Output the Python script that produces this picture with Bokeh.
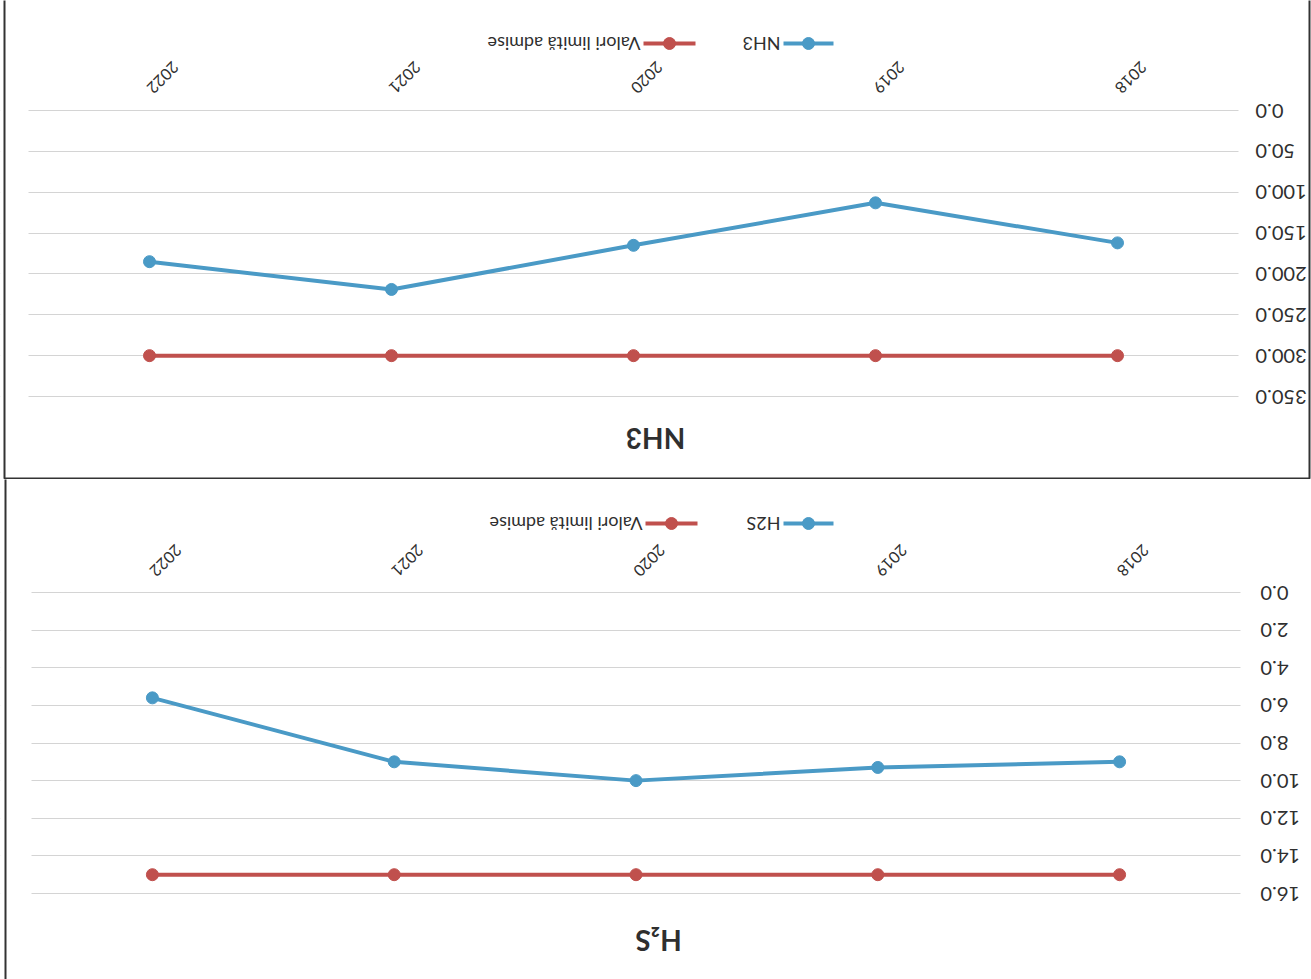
import math

from bokeh.embed import file_html
from bokeh.layouts import column
from bokeh.models import (BoxAnnotation, FixedTicker, Label,
                          NumeralTickFormatter, Range1d, SingleIntervalTicker)
from bokeh.plotting import figure
from bokeh.resources import INLINE

# ---- data -------------------------------------------------------------
years = [2018, 2019, 2020, 2021, 2022]

nh3_values = [162, 113, 165, 219, 185]
nh3_limit = [300, 300, 300, 300, 300]

h2s_values = [9.0, 9.3, 10.0, 9.0, 5.6]
h2s_limit = [15.0, 15.0, 15.0, 15.0, 15.0]

limit_name = "Valori limită admise"

BLUE = "#4a9ac6"
RED = "#c0504d"
TEXT = "#2f2f2f"
FONT = "Lato"
W = 1311


def make_panel(title, series_name, values, limits, y_max, y_step, height, geo):
    """One chart, printed turned by 180 degrees: 0 at the top, 2018 on the right."""
    unit_x = (geo["band_right"] - geo["band_left"]) / len(years)
    x_left = max(years) + 0.5 + geo["band_left"] / unit_x
    x_right = min(years) - 0.5 - (W - geo["band_right"]) / unit_x
    unit_y = (geo["max_px"] - geo["zero_px"]) / y_max
    y_top = -geo["zero_px"] / unit_y
    y_bottom = (height - geo["zero_px"]) / unit_y

    def px_x(px):
        return x_left + (x_right - x_left) * px / W

    def px_y(py):
        return y_top + (y_bottom - y_top) * py / height

    p = figure(
        width=W, height=height,
        x_range=Range1d(start=x_left, end=x_right),
        y_range=Range1d(start=y_bottom, end=y_top),
        x_axis_location="above", y_axis_location="left",
        output_backend="svg", toolbar_location=None,
        min_border=0, min_border_left=0, min_border_right=0,
        min_border_top=0, min_border_bottom=0,
        background_fill_color="white", border_fill_color="white",
        outline_line_color=None,
    )

    # horizontal grid only across the plotting band
    p.xgrid.visible = False
    p.ygrid.bounds = (0, y_max)
    p.ygrid.grid_line_color = "#d4d4d4"
    p.ygrid.grid_line_width = 1
    p.add_layout(BoxAnnotation(right=px_x(geo["band_left"]), fill_color="white",
                               fill_alpha=1, line_color=None, level="underlay"))
    p.add_layout(BoxAnnotation(left=px_x(geo["band_right"]), fill_color="white",
                               fill_alpha=1, line_color=None, level="underlay"))

    # value axis: upside-down labels to the right of the band
    y_standoff = -56
    yax = p.yaxis[0]
    yax.ticker = SingleIntervalTicker(interval=y_step)
    yax.bounds = (0, y_max)
    yax.formatter = NumeralTickFormatter(format="0.0")
    yax.fixed_location = px_x(geo["label_left"] + y_standoff)
    yax.major_label_standoff = y_standoff
    yax.major_label_orientation = math.pi
    yax.major_label_text_font = FONT
    yax.major_label_text_font_size = "20px"
    yax.major_label_text_color = TEXT
    yax.axis_line_color = None
    yax.major_tick_line_color = None
    yax.minor_tick_line_color = None
    yax.major_tick_in = 0
    yax.major_tick_out = 0
    yax.minor_tick_in = 0
    yax.minor_tick_out = 0

    # year axis: slanted upside-down labels above the band
    x_standoff = -45
    xax = p.xaxis[0]
    xax.ticker = FixedTicker(ticks=years)
    xax.fixed_location = px_y(geo["xlabel_anchor"] + x_standoff)
    xax.major_label_standoff = x_standoff
    xax.major_label_orientation = -3 * math.pi / 4
    xax.major_label_text_font = FONT
    xax.major_label_text_font_size = "16px"
    xax.major_label_text_color = TEXT
    xax.axis_line_color = None
    xax.major_tick_line_color = None
    xax.minor_tick_line_color = None
    xax.major_tick_in = 0
    xax.major_tick_out = 0
    xax.minor_tick_in = 0
    xax.minor_tick_out = 0

    # series
    p.line(years, limits, line_color=RED, line_width=4)
    p.scatter(years, limits, size=12, fill_color=RED, line_color=RED)
    p.line(years, values, line_color=BLUE, line_width=4)
    p.scatter(years, values, size=12, fill_color=BLUE, line_color=BLUE)

    # title
    p.add_layout(Label(x=px_x(geo["title_x"]), y=px_y(geo["title_y"]),
                       text=title, angle=math.pi,
                       text_align="center", text_baseline="middle",
                       text_font=FONT, text_font_style="bold",
                       text_font_size="28px", text_color=TEXT))

    # legend: sample line with marker, text running on from its end
    ly = px_y(geo["legend_y"])
    entries = [(series_name, BLUE) + geo["legend_blue"],
               (limit_name, RED) + geo["legend_red"]]
    for name, color, line_l, line_r in entries:
        p.line([px_x(line_l), px_x(line_r)], [ly, ly],
               line_color=color, line_width=4)
        p.scatter([px_x((line_l + line_r) / 2)], [ly], size=12,
                  fill_color=color, line_color=color)
        p.add_layout(Label(x=px_x(line_l - 3), y=ly, text=name,
                           angle=math.pi,
                           text_align="left", text_baseline="middle",
                           text_font=FONT, text_font_size="18px",
                           text_color=TEXT))

    # frame of the printed chart
    bl, br, bt, bb = geo["box"]
    p.add_layout(BoxAnnotation(left=px_x(bl), right=px_x(br),
                               top=px_y(bt), bottom=px_y(bb),
                               fill_alpha=0, line_color="#333333",
                               line_alpha=1, line_width=2))
    return p


nh3_geo = dict(band_left=28, band_right=1238, zero_px=110, max_px=396,
               label_left=1255, xlabel_anchor=90, title_x=655, title_y=438,
               legend_y=43, legend_blue=(783, 833),
               legend_red=(643, 695), box=(4, 1309, -10, 478))
h2s_geo = dict(band_left=31, band_right=1240, zero_px=113, max_px=414,
               label_left=1260, xlabel_anchor=94, title_x=658, title_y=461,
               legend_y=44, legend_blue=(783, 833),
               legend_red=(645, 697), box=(5, 1400, -10, 540))

p_nh3 = make_panel("NH3", "NH3", nh3_values, nh3_limit, 350, 50, 479, nh3_geo)
p_h2s = make_panel("H₂S", "H2S", h2s_values, h2s_limit, 16, 2, 500, h2s_geo)

layout = column(p_nh3, p_h2s, spacing=0)

open("out.html", "w").write(file_html(layout, INLINE))
